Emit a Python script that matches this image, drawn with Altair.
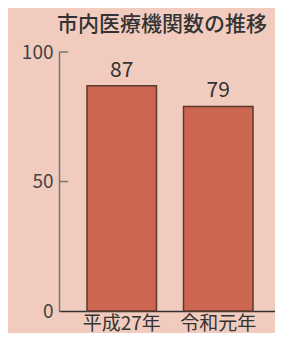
import altair as alt
import pandas as pd

categories = ["平成27年", "令和元年"]
values = [87, 79]
tick_values = [50, 100]

df = pd.DataFrame({"cat": categories, "val": values})
ticks = pd.DataFrame({"t": tick_values})

FONT = "Noto Sans CJK JP"

xenc = alt.X("cat:N", sort=categories, title=None,
             scale=alt.Scale(paddingInner=0.28, paddingOuter=0.29),
             axis=alt.Axis(labelAngle=0, labelFont=FONT, labelFontSize=19,
                           labelColor="#333333", labelPadding=3, ticks=False,
                           domainColor="#333333", domainWidth=1.5))
yscale = alt.Scale(domain=[0, 100])

bars = alt.Chart(df).mark_bar(color="#cd6650", stroke="#5a3a30", strokeWidth=1.5).encode(
    x=xenc,
    y=alt.Y("val:Q", scale=yscale, title=None,
            axis=alt.Axis(values=[0, 50, 100], ticks=False, labelFont=FONT,
                          labelFontSize=19, labelColor="#444444", labelPadding=6,
                          domainColor="#777777", domainWidth=1.5, grid=False)),
)

labels = alt.Chart(df).mark_text(font=FONT, fontSize=21, color="#333333", baseline="alphabetic", dy=-9).encode(
    x=alt.X("cat:N", sort=categories),
    y=alt.Y("val:Q", scale=yscale),
    text="val:Q",
)

tickrules = alt.Chart(ticks).mark_rule(color="#777777", strokeWidth=1.5).encode(
    y=alt.Y("t:Q", scale=yscale),
    x=alt.value(0),
    x2=alt.value(9),
)

chart = alt.layer(bars, labels, tickrules).properties(
    width=222, height=259,
    background="#f1cbbe",
    padding={"left": 51, "top": 44, "right": -6, "bottom": 22},
    autosize=alt.AutoSizeParams(type="none"),
    title=alt.TitleParams("市内医療機関数の推移", font=FONT, fontSize=21, fontWeight=500,
                          color="#333333", anchor="middle", dx=-8, offset=8),
).configure_view(stroke=None)

chart.save("out.html", embed_options={"renderer": "svg", "actions": False})
